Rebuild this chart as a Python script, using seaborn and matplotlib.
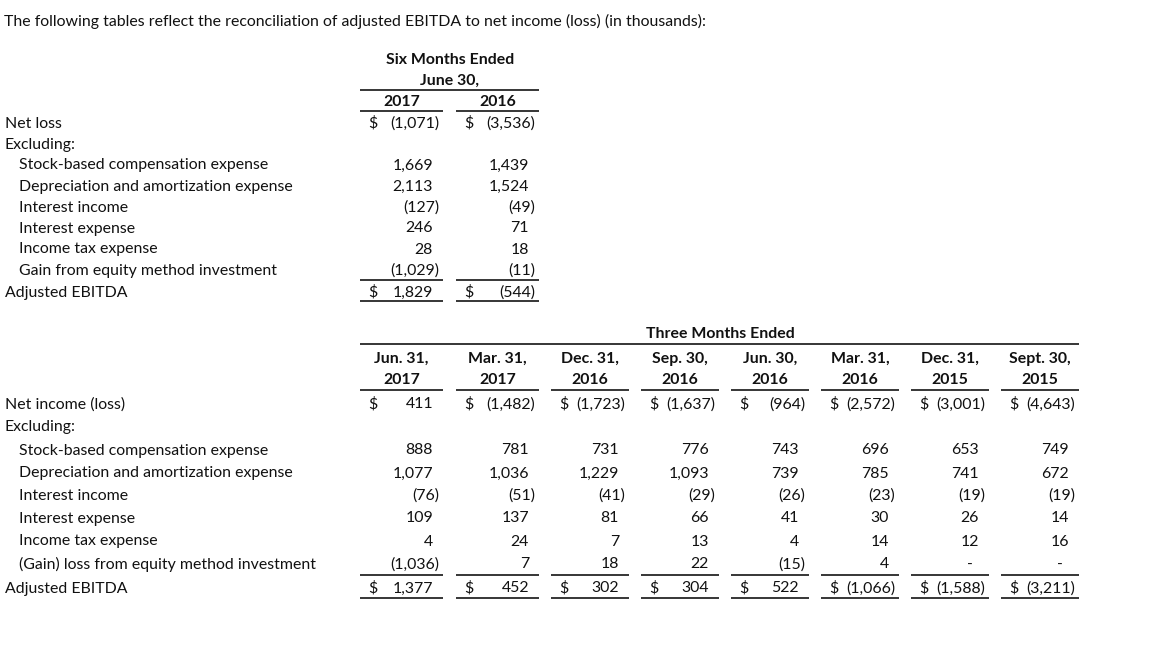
import matplotlib.pyplot as plt
import seaborn as sns

# data ------------------------------------------------
title = "The following tables reflect the reconciliation of adjusted EBITDA to net income (loss) (in thousands):"

six_header = ["Six Months Ended", "June 30,"]
six_years = ["2017", "2016"]
six_labels = ["Net loss", "Excluding:", "Stock-based compensation expense",
              "Depreciation and amortization expense", "Interest income",
              "Interest expense", "Income tax expense",
              "Gain from equity method investment", "Adjusted EBITDA"]
six_2017 = [-1071, None, 1669, 2113, -127, 246, 28, -1029, 1829]
six_2016 = [-3536, None, 1439, 1524, -49, 71, 18, -11, -544]

three_header = "Three Months Ended"
q_month = ["Jun. 31,", "Mar. 31,", "Dec. 31,", "Sep. 30,", "Jun. 30,", "Mar. 31,", "Dec. 31,", "Sept. 30,"]
q_year = ["2017", "2017", "2016", "2016", "2016", "2016", "2015", "2015"]
three_labels = ["Net income (loss)", "Excluding:", "Stock-based compensation expense",
                "Depreciation and amortization expense", "Interest income",
                "Interest expense", "Income tax expense",
                "(Gain) loss from equity method investment", "Adjusted EBITDA"]
net_income = [411, -1482, -1723, -1637, -964, -2572, -3001, -4643]
stock_comp = [888, 781, 731, 776, 743, 696, 653, 749]
deprec = [1077, 1036, 1229, 1093, 739, 785, 741, 672]
int_income = [-76, -51, -41, -29, -26, -23, -19, -19]
int_expense = [109, 137, 81, 66, 41, 30, 26, 14]
tax_expense = [4, 24, 7, 13, 4, 14, 12, 16]
equity_gain = [-1036, 7, 18, 22, -15, 4, None, None]
adj_ebitda = [1377, 452, 302, 304, 522, -1066, -1588, -3211]

# layout ----------------------------------------------
sns.set_theme(style="white")
plt.rcParams['font.family'] = ['Lato', 'DejaVu Sans']
FS = 11.4
DY = 1.5   # small nudge so text centres sit on the row lines

fig = plt.figure(figsize=(11.52, 6.48), dpi=100)
ax = fig.add_axes([0, 0, 1, 1])
ax.set_xlim(0, 1152)
ax.set_ylim(648, 0)
ax.axis('off')


def txt(x, y, s, ha='left', bold=False):
    ax.text(x, y + DY, s, ha=ha, va='center', fontsize=FS, color='#111111',
            fontweight='bold' if bold else 'normal')


def hline(x0, x1, y, lw=1.1):
    ax.plot([x0, x1], [y, y], color='black', linewidth=lw, solid_capstyle='butt')


def num(v, left, right, y, dollar=False):
    # accounting style cell: $ flush left, number right, negatives in parens
    if dollar:
        txt(left + 8, y, "$")
    if v is None:
        txt(right - 19, y, "-", ha='center')
    elif v < 0:
        txt(right - 4, y, f"({-v:,})", ha='right')
    else:
        txt(right - 10, y, f"{v:,}", ha='right')


txt(4, 20, title)

# six months table
six_cols = [(360, 443), (456, 539)]
txt(450, 58, six_header[0], ha='center', bold=True)
txt(450, 79, six_header[1], ha='center', bold=True)
hline(360, 539, 90)
for (l, r), yr in zip(six_cols, six_years):
    txt((l + r) / 2, 100, yr, ha='center', bold=True)
    hline(l, r, 111)

six_y = [122, 143, 164, 185, 206, 227, 248, 269, 291]
for i, (lab, y) in enumerate(zip(six_labels, six_y)):
    indent = 19 if 1 < i < 8 else 5
    txt(indent, y, lab)
    if i == 1:
        continue
    for (l, r), col in zip(six_cols, [six_2017, six_2016]):
        num(col[i], l, r, y, dollar=(i in (0, 8)))
for l, r in six_cols:
    hline(l, r, 280)
    hline(l, r, 301)

# three months table
q_cols = [(360, 443), (456, 539), (551, 629), (641, 719),
          (731, 809), (821, 899), (911, 989), (1001, 1079)]
txt(720, 333, three_header, ha='center', bold=True)
hline(360, 1079, 344)
for (l, r), m, yr in zip(q_cols, q_month, q_year):
    txt((l + r) / 2, 357, m, ha='center', bold=True)
    txt((l + r) / 2, 379, yr, ha='center', bold=True)
    hline(l, r, 390)

rows = [net_income, None, stock_comp, deprec, int_income,
        int_expense, tax_expense, equity_gain, adj_ebitda]
three_y = [403, 426, 449, 472, 494, 517, 540, 563, 587]
for i, (lab, y) in enumerate(zip(three_labels, three_y)):
    indent = 19 if 1 < i < 8 else 5
    txt(indent, y, lab)
    if rows[i] is None:
        continue
    for (l, r), v in zip(q_cols, rows[i]):
        num(v, l, r, y, dollar=(i in (0, 8)))
for l, r in q_cols:
    hline(l, r, 575)
    hline(l, r, 598)

fig.savefig("out.png", dpi=100)
